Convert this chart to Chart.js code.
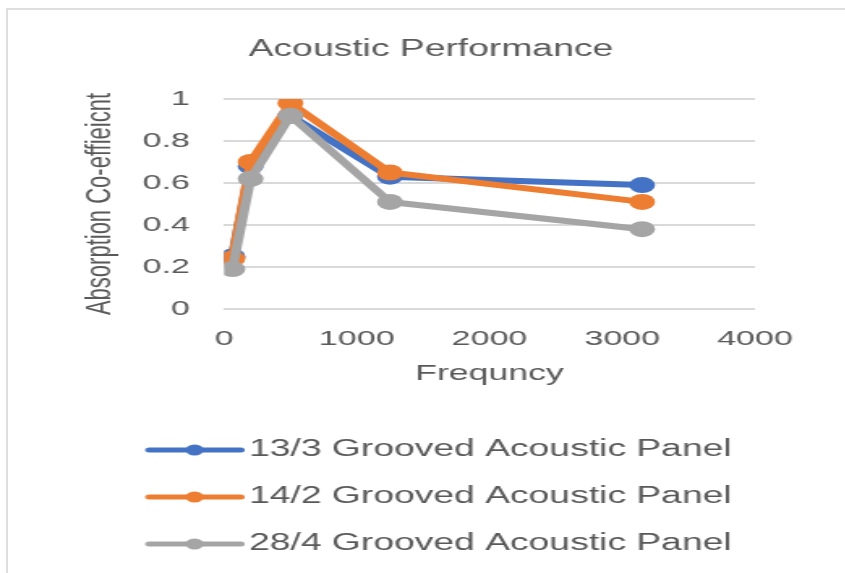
<!DOCTYPE html>
<html>
<head>
<meta charset="utf-8">
<script src="https://cdn.jsdelivr.net/npm/chart.js@4/dist/chart.umd.min.js"></script>
<style>
  html, body { margin: 0; padding: 0; background: #ffffff; overflow: hidden; width: 845px; height: 573px; }
  #frame { position: absolute; left: 6px; top: 8px; width: 900px; height: 600px; border: 2px solid #dedede; box-sizing: border-box; }
  #wrap { position: absolute; left: 0; top: 0; width: 532px; height: 573px; transform: scaleX(1.62); transform-origin: 0 0; }
</style>
</head>
<body>
<div id="frame"></div>
<div id="wrap"><canvas id="c" width="532" height="573"></canvas></div>
<script>
// ---- data ----
const frequencies = [63, 200, 500, 1250, 3150];
const seriesNames = ['13/3 Grooved Acoustic Panel', '14/2 Grooved Acoustic Panel', '28/4 Grooved Acoustic Panel'];
const panel13_3 = [0.25, 0.68, 0.92, 0.63, 0.59];
const panel14_2 = [0.24, 0.70, 0.98, 0.65, 0.51];
const panel28_4 = [0.19, 0.62, 0.92, 0.51, 0.38];
const xTickValues = [0, 1000, 2000, 3000, 4000];
const yTickValues = [0, 0.2, 0.4, 0.6, 0.8, 1];
const chartTitle = 'Acoustic Performance';
const xTitle = 'Frequncy';
const yTitle = 'Absorption Co-effieicnt';

// ---- styles ----
const colors = ['#4472C4', '#ED7D31', '#A5A5A5'];
const textColor = '#595959';
const FONT = '"Liberation Sans", Arial, Helvetica, sans-serif';

function legendImage(color) {
  const c = document.createElement('canvas');
  c.width = 136; c.height = 14;
  const g = c.getContext('2d');
  g.strokeStyle = color; g.lineWidth = 5; g.lineCap = 'round';
  g.beginPath(); g.moveTo(77, 7); g.lineTo(133.5, 7); g.stroke();
  g.fillStyle = color;
  g.beginPath(); g.arc(105, 7, 5.5, 0, Math.PI * 2); g.fill();
  return c;
}

const seriesValues = [panel13_3, panel14_2, panel28_4];
const datasets = seriesValues.map((vals, i) => ({
  label: seriesNames[i],
  data: frequencies.map((f, j) => ({ x: f, y: vals[j] })),
  borderColor: colors[i],
  backgroundColor: colors[i],
  borderWidth: 6,
  pointRadius: 8,
  pointBorderWidth: 0,
  pointBackgroundColor: colors[i],
  tension: 0,
  order: 3 - i
}));

new Chart(document.getElementById('c'), {
  type: 'line',
  data: { datasets },
  options: {
    responsive: false,
    animation: false,
    devicePixelRatio: 1,
    layout: { padding: { left: 0, right: 0, top: 0, bottom: 7.5 } },
    plugins: {
      tooltip: { enabled: false },
      title: {
        display: true,
        text: chartTitle,
        color: textColor,
        font: { family: FONT, size: 23, weight: 'normal' },
        padding: { top: 36, bottom: 35.4 }
      },
      legend: {
        display: true,
        position: 'bottom',
        align: 'start',
        labels: {
          color: textColor,
          font: { family: FONT, size: 23 },
          padding: 24,
          usePointStyle: true,
          pointStyleWidth: 118.2,
          generateLabels: (chart) => chart.data.datasets.map((ds, i) => ({
            text: ds.label,
            pointStyle: legendImage(colors[i]),
            fillStyle: colors[i],
            strokeStyle: colors[i],
            lineWidth: 0,
            fontColor: textColor,
            hidden: false,
            datasetIndex: i
          }))
        }
      }
    },
    scales: {
      x: {
        type: 'linear',
        min: 0, max: 4000,
        afterBuildTicks: (s) => { s.ticks = xTickValues.map(v => ({ value: v })); },
        afterFit: (s) => { s.paddingRight = 66; },
        ticks: {
          color: textColor,
          font: { family: FONT, size: 21 },
          padding: 0,
          maxRotation: 0,
          callback: (v) => String(v)
        },
        grid: { display: true, drawOnChartArea: false, drawTicks: true, tickLength: 17.9, tickColor: 'rgba(0,0,0,0)' },
        border: { display: false },
        title: {
          display: true,
          text: xTitle,
          color: textColor,
          font: { family: FONT, size: 22 },
          padding: { top: 8.7, bottom: 27.3 }
        }
      },
      y: {
        type: 'linear',
        min: 0, max: 1,
        afterBuildTicks: (s) => { s.ticks = yTickValues.map(v => ({ value: v })); },
        afterFit: (s) => { s.width = 138.3; },
        ticks: {
          color: textColor,
          font: { family: FONT, size: 21 },
          padding: 21,
          callback: (v) => String(v)
        },
        grid: { color: '#d9d9d9', lineWidth: 2, drawTicks: false },
        border: { display: false },
        title: {
          display: true,
          text: yTitle,
          color: textColor,
          font: { family: FONT, size: 22 },
          padding: { top: 48.5, bottom: 4 }
        }
      }
    }
  }
});
</script>
</body>
</html>
